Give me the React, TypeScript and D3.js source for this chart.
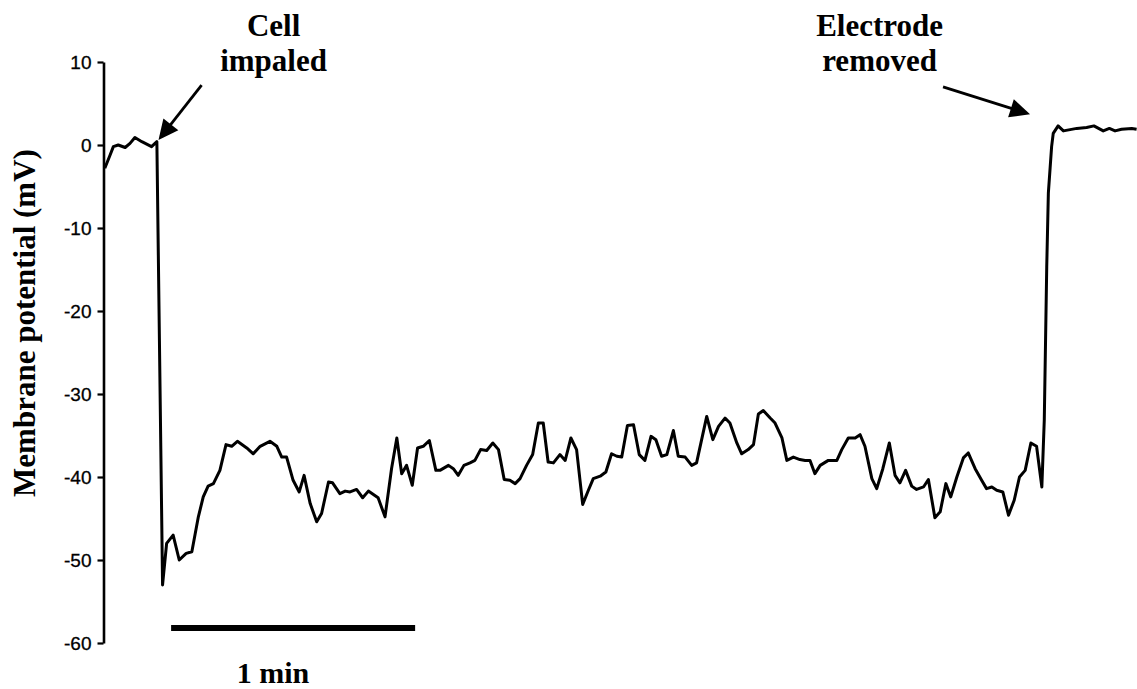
import React, { useRef, useEffect } from 'react'
import * as d3 from 'd3'

// time in seconds from the start of the record, potential in mV
const timeSec = [
  0.2, 1.5, 2.3, 3.5, 5.2, 6.4, 7.6, 9.3, 11.7, 13.0,
  14.4, 15.4, 17.0, 18.5, 20.2, 21.6, 23.2, 24.4, 25.6, 26.9,
  28.5, 30.0, 31.4, 32.8, 35.1, 36.7, 38.4, 40.8, 42.5, 43.7,
  44.9, 46.5, 48.0, 49.2, 50.7, 52.3, 53.5, 55.2, 56.2, 58.0,
  59.3, 60.5, 62.1, 63.6, 65.0, 67.4, 69.1, 70.7, 72.0, 73.2,
  74.4, 75.8, 77.1, 78.5, 80.0, 81.6, 82.6, 84.7, 85.9, 87.1,
  88.5, 90.0, 91.2, 92.6, 94.1, 95.6, 97.0, 98.4, 99.8, 101.1,
  102.3, 103.9, 105.4, 106.8, 108.0, 109.2, 110.5, 112.1, 113.4, 114.8,
  116.2, 117.7, 119.1, 120.3, 122.0, 123.4, 124.8, 126.1, 127.3, 128.7,
  130.2, 131.6, 133.0, 134.5, 135.7, 137.1, 138.4, 140.0, 141.2, 142.9,
  144.5, 145.7, 148.2, 149.7, 151.1, 152.7, 153.9, 155.6, 156.8, 158.4,
  159.7, 160.9, 162.1, 163.8, 165.0, 166.7, 167.9, 169.5, 171.1, 172.4,
  173.6, 174.8, 176.1, 178.1, 180.2, 181.4, 183.0, 184.7, 185.9, 187.1,
  188.8, 190.0, 191.5, 193.1, 194.5, 195.7, 197.1, 198.6, 199.8, 201.5,
  202.7, 204.3, 205.6, 207.0, 208.2, 209.7, 211.3, 212.5, 214.2, 215.8,
  217.0, 218.3, 219.5, 221.0, 222.4, 223.8, 225.1, 226.5, 227.9, 229.3,
  230.6, 231.2, 231.8, 232.2, 233.0, 233.4, 234.6, 235.9, 239.2, 241.6,
  243.4, 245.7, 247.2, 248.6, 250.2, 252.7, 253.9
]
const potentialMv = [
  -2.8, -1.2, -0.2, 0, -0.3, 0.2, 0.9, 0.4, -0.2, 0.4,
  -53.0, -48.0, -47.0, -50.0, -49.2, -49.0, -44.8, -42.4, -41.1, -40.8,
  -39.2, -36.1, -36.3, -35.7, -36.5, -37.2, -36.3, -35.7, -36.3, -37.6,
  -37.6, -40.4, -41.8, -39.8, -43.2, -45.4, -44.4, -40.6, -40.7, -42.0,
  -41.7, -41.8, -41.5, -42.5, -41.7, -42.5, -44.8, -39.0, -35.3, -39.6,
  -38.6, -41.0, -36.5, -36.3, -35.6, -39.2, -39.2, -38.6, -39.0, -39.8,
  -38.6, -38.3, -38.0, -36.7, -36.8, -35.9, -36.7, -40.3, -40.4, -40.8,
  -40.2, -38.6, -37.3, -33.5, -33.5, -38.2, -38.3, -37.3, -38.0, -35.3,
  -36.7, -43.3, -41.6, -40.2, -39.9, -39.4, -37.2, -37.5, -37.6, -33.8,
  -33.7, -37.3, -38.0, -35.1, -35.5, -37.5, -37.3, -34.4, -37.5, -37.6,
  -38.6, -38.3, -32.7, -35.5, -33.9, -32.9, -33.5, -35.9, -37.2, -36.7,
  -36.1, -32.4, -32.0, -32.9, -33.5, -35.3, -38.0, -37.6, -37.9, -38.0,
  -38.0, -39.6, -38.6, -38.0, -38.0, -36.7, -35.3, -35.3, -34.9, -36.3,
  -40.2, -41.4, -39.0, -35.9, -39.8, -40.7, -39.2, -41.1, -41.5, -41.2,
  -40.3, -44.9, -44.2, -40.8, -42.4, -40.0, -37.7, -37.1, -39.0, -40.4,
  -41.4, -41.2, -41.6, -41.8, -44.6, -42.8, -40.0, -39.2, -35.9, -36.3,
  -41.2, -33.1, -14.7, -5.8, -0.2, 1.4, 2.3, 1.7, 2.0, 2.1,
  2.3, 1.7, 2.0, 1.7, 1.9, 2.0, 1.9
]

const yTicks = [10, 0, -10, -20, -30, -40, -50, -60]

// annotations: label lines, and arrow from/to in data units
const annLabels = [['Cell', 'impaled'], ['Electrode', 'removed']]
const annTextT = [41.7, 190.7]
const annArrowFrom = [[24.0, 7.2], [206.3, 7.0]]
const annArrowTo = [[13.4, 0.6], [227.7, 3.7]]

const scaleBarStart = 16.5
const scaleBarLength = 60
const scaleBarLevel = -58.2
const scaleBarLabel = '1 min'

const W = 1137
const H = 689
const serif = '"Liberation Serif", "Times New Roman", serif'

export default function App() {
  const ref = useRef<SVGSVGElement>(null)

  const x = d3.scaleLinear().domain([0, 254]).range([104, 104 + 254 * 4.067])
  const y = d3.scaleLinear().domain([-60, 10]).range([643, 62])

  const data = timeSec.map((t, i) => [t, potentialMv[i]] as [number, number])
  const line = d3.line<[number, number]>()
    .x(d => x(d[0]))
    .y(d => y(d[1]))

  useEffect(() => {
    const svg = d3.select(ref.current)
    const g = svg.select<SVGGElement>('#yaxis')
    g.call(d3.axisLeft(y).tickValues(yTicks).tickSize(6).tickSizeOuter(0).tickPadding(6).tickFormat(d => String(d)))
    g.select('.domain').attr('stroke', '#000').attr('stroke-width', 2.6)
    g.selectAll('.tick line').attr('stroke', '#000').attr('stroke-width', 2.2)
    g.selectAll('.tick text')
      .attr('font-family', '"Liberation Sans", Arial, sans-serif')
      .attr('font-size', 19)
      .attr('fill', '#000')
      .attr('stroke', '#000')
      .attr('stroke-width', 0.3)
  }, [])

  // arrow with a filled triangular head at the "to" end
  const arrow = (i: number) => {
    const x1 = x(annArrowFrom[i][0]), y1 = y(annArrowFrom[i][1])
    const x2 = x(annArrowTo[i][0]), y2 = y(annArrowTo[i][1])
    const len = Math.hypot(x2 - x1, y2 - y1)
    const ux = (x2 - x1) / len, uy = (y2 - y1) / len
    const hl = 20, hw = 9.5
    const bx = x2 - ux * hl, by = y2 - uy * hl
    const pts = [[x2, y2], [bx - uy * hw, by + ux * hw], [bx + uy * hw, by - ux * hw]]
    return (
      <g>
        <line x1={x1} y1={y1} x2={bx + ux * 2} y2={by + uy * 2} stroke="#000" strokeWidth={2.8} />
        <polygon points={pts.map(p => p.join(',')).join(' ')} fill="#000" />
      </g>
    )
  }

  return (
    <svg ref={ref} width={W} height={H} style={{ position: 'absolute', left: 0, top: 0, background: '#fff' }}>
      <g id="yaxis" transform="translate(103.5,0)" />
      <text transform={`translate(35,${(143 + 503) / 2}) rotate(-90)`} textAnchor="middle"
        fontFamily={serif} fontWeight="bold" fontSize={31}>
        Membrane potential (mV)
      </text>
      <path d={line(data) || ''} fill="none" stroke="#000" strokeWidth={3} strokeLinejoin="round" />
      {annLabels.map((lines, i) => (
        <g key={i}>
          {lines.map((s, j) => (
            <text key={j} x={x(annTextT[i])} y={36 + j * 35} textAnchor="middle"
              fontFamily={serif} fontWeight="bold" fontSize={31}>
              {s}
            </text>
          ))}
          {arrow(i)}
        </g>
      ))}
      <line x1={x(scaleBarStart)} x2={x(scaleBarStart + scaleBarLength)} y1={y(scaleBarLevel)} y2={y(scaleBarLevel)}
        stroke="#000" strokeWidth={6} />
      <text x={273} y={683} textAnchor="middle" fontFamily={serif} fontWeight="bold" fontSize={30}>
        {scaleBarLabel}
      </text>
    </svg>
  )
}
